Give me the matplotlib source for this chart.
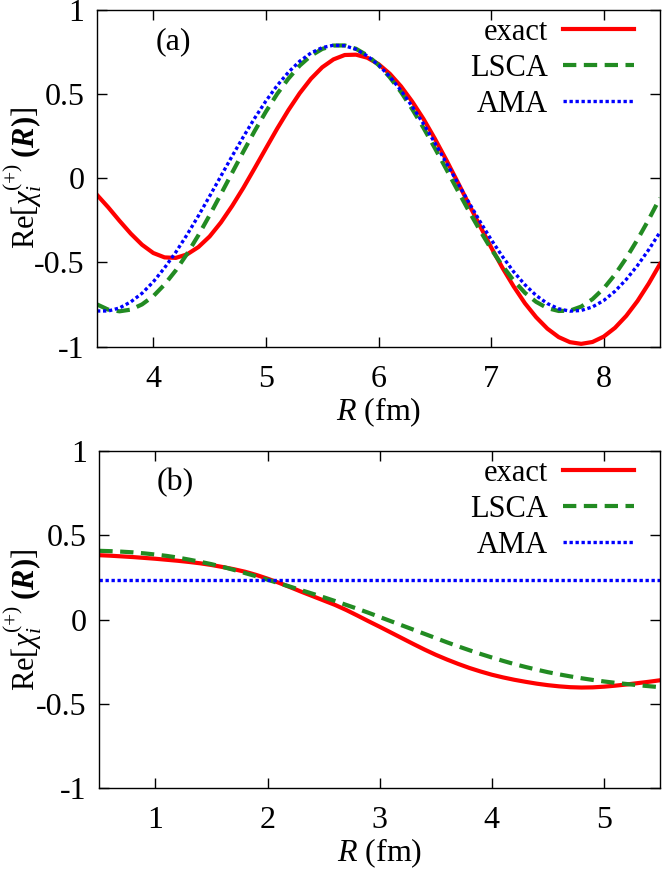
import numpy as np
import matplotlib
matplotlib.use("Agg")
import matplotlib.pyplot as plt
from matplotlib.lines import Line2D

plt.rcParams['font.family'] = ['Liberation Serif', 'DejaVu Serif']
plt.rcParams['mathtext.fontset'] = 'custom'
plt.rcParams['mathtext.rm'] = 'Liberation Serif'
plt.rcParams['mathtext.it'] = 'Liberation Serif:italic'
plt.rcParams['mathtext.bf'] = 'Liberation Serif:bold'
plt.rcParams['mathtext.bfit'] = 'Liberation Serif:bold:italic'
plt.rcParams['axes.unicode_minus'] = False

# ---------------- data: panel (a) ----------------
R_a = np.linspace(3.5, 8.5, 51)
exact_a = [-0.099, -0.173, -0.253, -0.329, -0.395, -0.444, -0.470, -0.473, -0.452, -0.409,
           -0.346, -0.263, -0.165, -0.057, 0.059, 0.177, 0.294, 0.404, 0.504, 0.590,
           0.658, 0.705, 0.731, 0.733, 0.715, 0.677, 0.620, 0.545, 0.454, 0.351,
           0.235, 0.111, -0.019, -0.151, -0.282, -0.410, -0.531, -0.642, -0.742, -0.825,
           -0.893, -0.943, -0.973, -0.983, -0.972, -0.940, -0.888, -0.817, -0.729, -0.625,
           -0.509]
lsca_a = [-0.749, -0.780, -0.790, -0.780, -0.749, -0.700, -0.631, -0.547, -0.449, -0.339,
          -0.220, -0.095, 0.032, 0.158, 0.280, 0.395, 0.500, 0.591, 0.668, 0.727,
          0.767, 0.787, 0.788, 0.768, 0.729, 0.672, 0.599, 0.511, 0.409, 0.298,
          0.179, 0.056, -0.069, -0.192, -0.309, -0.420, -0.519, -0.607, -0.680, -0.734,
          -0.771, -0.788, -0.786, -0.762, -0.718, -0.654, -0.572, -0.474, -0.364, -0.245,
          -0.117]
ama_a = [-0.788, -0.788, -0.770, -0.734, -0.683, -0.615, -0.532, -0.439, -0.335, -0.224,
         -0.107, 0.012, 0.131, 0.246, 0.356, 0.458, 0.550, 0.629, 0.694, 0.743,
         0.775, 0.789, 0.786, 0.765, 0.726, 0.672, 0.603, 0.520, 0.425, 0.322,
         0.210, 0.094, -0.024, -0.141, -0.255, -0.364, -0.464, -0.555, -0.632, -0.696,
         -0.744, -0.775, -0.789, -0.785, -0.764, -0.726, -0.671, -0.601, -0.518, -0.424,
         -0.320]

# ---------------- data: panel (b) ----------------
R_b = np.linspace(0.5, 5.5, 51)
exact_b = [0.381, 0.378, 0.374, 0.370, 0.365, 0.360, 0.354, 0.348, 0.341, 0.333,
           0.323, 0.311, 0.298, 0.283, 0.264, 0.242, 0.218, 0.192, 0.165, 0.139,
           0.113, 0.087, 0.057, 0.024, -0.010, -0.043, -0.077, -0.111, -0.145, -0.178,
           -0.209, -0.237, -0.263, -0.287, -0.308, -0.327, -0.343, -0.357, -0.369, -0.380,
           -0.389, -0.396, -0.401, -0.403, -0.402, -0.398, -0.392, -0.385, -0.377, -0.369,
           -0.360]
lsca_b = [0.407, 0.405, 0.402, 0.398, 0.392, 0.385, 0.377, 0.367, 0.355, 0.342,
          0.328, 0.312, 0.294, 0.275, 0.256, 0.236, 0.215, 0.195, 0.174, 0.153,
          0.132, 0.110, 0.087, 0.064, 0.040, 0.015, -0.010, -0.035, -0.060, -0.085,
          -0.110, -0.135, -0.159, -0.182, -0.204, -0.225, -0.245, -0.264, -0.281, -0.297,
          -0.312, -0.325, -0.337, -0.348, -0.358, -0.367, -0.375, -0.382, -0.389, -0.395,
          -0.401]
ama_b = 0.237
xlim_b = [0.5, 5.5]

yticks = [-1, -0.5, 0, 0.5, 1]
ytick_labels = ['-1', '-0.5', '0', '0.5', '1']
xticks_a = [4, 5, 6, 7, 8]
xticks_b = [1, 2, 3, 4, 5]
labels = ['exact', 'LSCA', 'AMA']
panel_tags = ['(a)', '(b)']

RED = '#ff0000'
GREEN = '#228b22'
BLUE = '#0000ff'
FS = 22
FS_TICK = 23

fig = plt.figure(figsize=(6.63, 8.72), dpi=100)
ax_a = fig.add_axes([0.1463, 0.6024, 0.9955 - 0.1463, 0.9889 - 0.6024])
ax_b = fig.add_axes([0.1498, 0.0960, 0.9955 - 0.1498, 0.4831 - 0.0960])

def style(ax, xticks, xlim, tag, ylab_x):
    ax.set_xlim(*xlim)
    ax.set_ylim(-1, 1)
    ax.set_yticks(yticks)
    ax.set_yticklabels(ytick_labels)
    ax.set_xticks(xticks)
    ax.set_xticklabels([str(t) for t in xticks])
    ax.tick_params(direction='in', top=True, right=True, length=7, width=1.0,
                   labelsize=FS_TICK, pad=9, color='black')
    ax.tick_params(axis='x', pad=13)
    for s in ax.spines.values():
        s.set_linewidth(1.0)
    ax.set_xlabel(r'$R$ (fm)', fontsize=FS_TICK, labelpad=1)
    ax.set_ylabel(r'Re$[\chi_i^{(+)}\;\mathbf{(}\mathbfit{R}\mathbf{)}]$', fontsize=22)
    ax.yaxis.set_label_coords(ylab_x, 0.5)
    ax.text(0.136, 0.905, tag, transform=ax.transAxes, fontsize=FS_TICK,
            ha='center', va='center')
    handles = [Line2D([], [], color=RED, lw=3.0, ls='-'),
               Line2D([], [], color=GREEN, lw=3.0, ls=(0, (3.2, 1.8))),
               Line2D([], [], color=BLUE, lw=2.4, ls=(0, (1.0, 0.8)))]
    ax.legend(handles, labels, loc='upper right', bbox_to_anchor=(0.953, 0.975),
              frameon=False, markerfirst=False, fontsize=FS, handlelength=2.3,
              handletextpad=0.5, labelspacing=0.22, borderpad=0, borderaxespad=0)

ax_a.plot(R_a, exact_a, color=RED, lw=3.0, ls='-')
ax_a.plot(R_a, lsca_a, color=GREEN, lw=3.0, ls=(0, (3.2, 1.8)))
ax_a.plot(R_a, ama_a, color=BLUE, lw=2.4, ls=(0, (1.0, 0.8)))
style(ax_a, xticks_a, (3.5, 8.5), panel_tags[0], -0.094)

ax_b.plot(R_b, exact_b, color=RED, lw=3.0, ls='-')
ax_b.plot(R_b, lsca_b, color=GREEN, lw=3.0, ls=(0, (3.2, 1.8)))
ax_b.plot(xlim_b, [ama_b, ama_b], color=BLUE, lw=2.4, ls=(0, (1.0, 0.8)))
style(ax_b, xticks_b, xlim_b, panel_tags[1], -0.098)

fig.savefig('out.png', dpi=100)
